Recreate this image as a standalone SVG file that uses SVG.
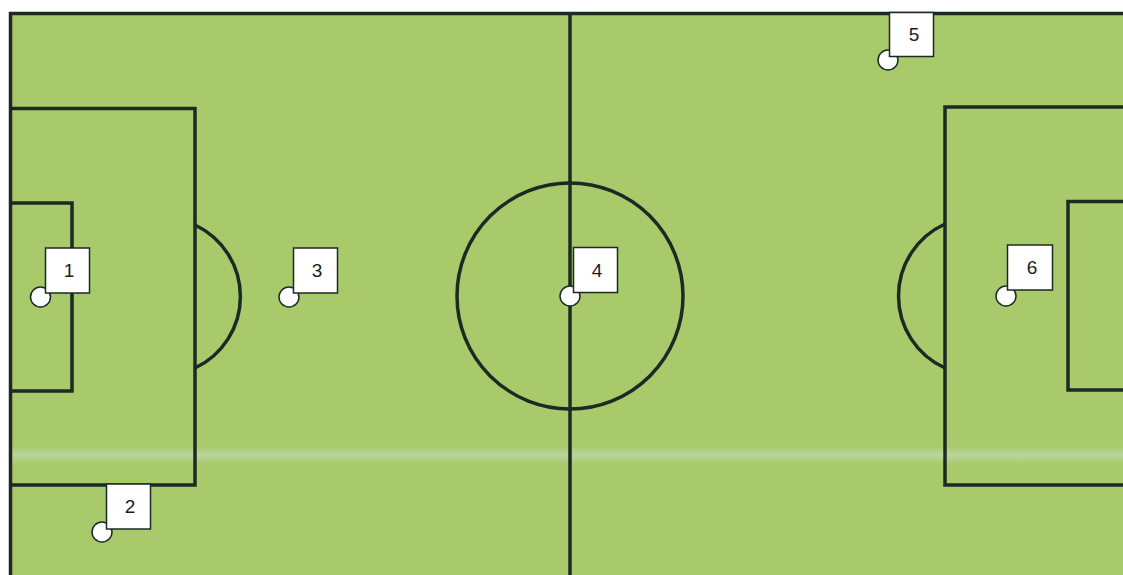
<svg xmlns="http://www.w3.org/2000/svg" width="1123" height="575" viewBox="0 0 1123 575">
  <defs>
    <linearGradient id="stripe" x1="0" y1="0" x2="0" y2="1">
      <stop offset="0" stop-color="#c4dcc0" stop-opacity="0"/>
      <stop offset="0.5" stop-color="#c4dcc0" stop-opacity="0.6"/>
      <stop offset="1" stop-color="#c4dcc0" stop-opacity="0"/>
    </linearGradient>
  </defs>
  <style>
    .line { fill: none; stroke: #1c2a24; stroke-width: 3.5; }
    .spot { fill: #ffffff; stroke: #1c2a24; stroke-width: 1.5; }
    .box { fill: #ffffff; stroke: #1c2a24; stroke-width: 1.5; }
    .lbl { font-family: "Liberation Sans", Arial, sans-serif; font-size: 19px; fill: #1c1c1c; text-anchor: middle; }
  </style>
  <rect x="0" y="0" width="1123" height="575" fill="#ffffff"/>
  <rect x="10" y="13" width="1113" height="562" fill="#a9ca6b"/>
  <rect x="10" y="446" width="1113" height="18" fill="url(#stripe)"/>

  <g id="pitch">
    <path class="line" d="M10.5 575 V13.5 H1123"/>
    <line class="line" x1="570" y1="13" x2="570" y2="575"/>
    <circle class="line" cx="570" cy="296" r="113"/>
    <path class="line" d="M10 108.5 H195 V485 H10"/>
    <path class="line" d="M10 203 H72 V391 H10"/>
    <path class="line" d="M195 225 A79 79 0 0 1 195 368"/>
    <path class="line" d="M1123 107 H945 V485 H1123"/>
    <path class="line" d="M1123 201.5 H1068 V390 H1123"/>
    <path class="line" d="M945 224 A79 79 0 0 0 945 368"/>
  </g>

  <g id="marker1">
    <circle class="spot" cx="40.5" cy="297" r="10"/>
    <rect class="box" x="45.5" y="248" width="44" height="45"/>
    <text class="lbl" x="69" y="277">1</text>
  </g>
  <g id="marker2">
    <circle class="spot" cx="102" cy="532" r="10"/>
    <rect class="box" x="106.5" y="484" width="44" height="45"/>
    <text class="lbl" x="130" y="513">2</text>
  </g>
  <g id="marker3">
    <circle class="spot" cx="289" cy="297" r="10"/>
    <rect class="box" x="293.5" y="248" width="44" height="45"/>
    <text class="lbl" x="317" y="277">3</text>
  </g>
  <g id="marker4">
    <circle class="spot" cx="570" cy="296" r="10"/>
    <rect class="box" x="573.5" y="247.5" width="44" height="45"/>
    <text class="lbl" x="597" y="277">4</text>
  </g>
  <g id="marker5">
    <circle class="spot" cx="888" cy="60" r="10"/>
    <rect class="box" x="889.5" y="12.5" width="44" height="44"/>
    <text class="lbl" x="914" y="41">5</text>
  </g>
  <g id="marker6">
    <circle class="spot" cx="1006" cy="296" r="10"/>
    <rect class="box" x="1007.5" y="245" width="45" height="45"/>
    <text class="lbl" x="1032" y="274">6</text>
  </g>
</svg>
